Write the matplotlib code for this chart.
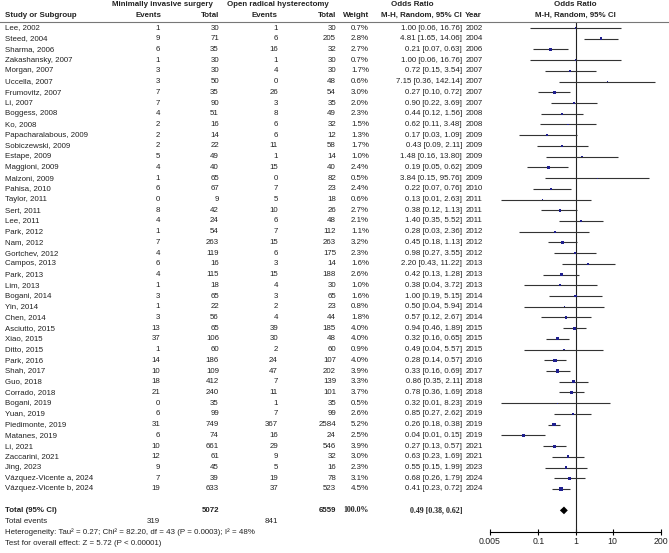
import matplotlib
matplotlib.use('Agg')
from matplotlib import pyplot as plt
from matplotlib.lines import Line2D
import numpy as np

plt.rcParams['font.family'] = ['Liberation Sans', 'DejaVu Sans']

# Data
studies = ['Lee, 2002', 'Steed, 2004', 'Sharma, 2006', 'Zakashansky, 2007', 'Morgan, 2007',
           'Uccella, 2007', 'Frumovitz, 2007', 'Li, 2007', 'Boggess, 2008', 'Ko, 2008',
           'Papacharalabous, 2009', 'Sobiczewski, 2009', 'Estape, 2009', 'Maggioni, 2009',
           'Malzoni, 2009', 'Pahisa, 2010', 'Taylor, 2011', 'Sert, 2011', 'Lee, 2011',
           'Park, 2012', 'Nam, 2012', 'Gortchev, 2012', 'Campos, 2013', 'Park, 2013',
           'Lim, 2013', 'Bogani, 2014', 'Yin, 2014', 'Chen, 2014', 'Asciutto, 2015',
           'Xiao, 2015', 'Ditto, 2015', 'Park, 2016', 'Shah, 2017', 'Guo, 2018',
           'Corrado, 2018', 'Bogani, 2019', 'Yuan, 2019', 'Piedimonte, 2019', 'Matanes, 2019',
           'Li, 2021', 'Zaccarini, 2021', 'Jing, 2023', 'Vázquez-Vicente a, 2024',
           'Vázquez-Vicente b, 2024']
mis_events = [1, 9, 6, 1, 3, 3, 7, 7, 4, 2, 2, 2, 5, 4, 1, 6, 0, 8, 4, 1, 7, 4, 6, 4, 1, 3,
              1, 3, 13, 37, 1, 14, 10, 18, 21, 0, 6, 31, 6, 10, 12, 9, 7, 19]
mis_total = [30, 71, 35, 30, 30, 50, 35, 90, 51, 16, 14, 22, 49, 40, 65, 67, 9, 42, 24, 54,
             263, 119, 16, 115, 18, 65, 22, 56, 65, 106, 60, 186, 109, 412, 240, 35, 99,
             749, 74, 661, 61, 45, 39, 633]
orh_events = [1, 6, 16, 1, 4, 0, 26, 3, 8, 6, 6, 11, 1, 15, 0, 7, 5, 10, 6, 7, 15, 6, 3, 15,
              4, 3, 2, 4, 39, 30, 2, 24, 47, 7, 11, 1, 7, 367, 16, 29, 9, 5, 19, 37]
orh_total = [30, 205, 32, 30, 30, 48, 54, 35, 49, 32, 12, 58, 14, 40, 82, 23, 18, 26, 48,
             112, 263, 175, 14, 188, 30, 65, 23, 44, 185, 48, 60, 107, 202, 139, 101, 35, 99,
             2584, 24, 546, 32, 16, 78, 523]
weights = [0.7, 2.8, 2.7, 0.7, 1.7, 0.6, 3.0, 2.0, 2.3, 1.5, 1.3, 1.7, 1.0, 2.4, 0.5, 2.4,
           0.6, 2.7, 2.1, 1.1, 3.2, 2.3, 1.6, 2.6, 1.0, 1.6, 0.8, 1.8, 4.0, 4.0, 0.9, 4.0,
           3.9, 3.3, 3.7, 0.5, 2.6, 5.2, 2.5, 3.9, 3.0, 2.3, 3.1, 4.5]
odds = [1.00, 4.81, 0.21, 1.00, 0.72, 7.15, 0.27, 0.90, 0.44, 0.62, 0.17, 0.43, 1.48, 0.19,
        3.84, 0.22, 0.13, 0.38, 1.40, 0.28, 0.45, 0.98, 2.20, 0.42, 0.38, 1.00, 0.50, 0.57,
        0.94, 0.32, 0.49, 0.28, 0.33, 0.86, 0.78, 0.32, 0.85, 0.26, 0.04, 0.27, 0.63, 0.55,
        0.68, 0.41]
ci_low = [0.06, 1.65, 0.07, 0.06, 0.15, 0.36, 0.10, 0.22, 0.12, 0.11, 0.03, 0.09, 0.16, 0.05,
          0.15, 0.07, 0.01, 0.12, 0.35, 0.03, 0.18, 0.27, 0.43, 0.13, 0.04, 0.19, 0.04, 0.12,
          0.46, 0.16, 0.04, 0.14, 0.16, 0.35, 0.36, 0.01, 0.27, 0.18, 0.01, 0.13, 0.23, 0.15,
          0.26, 0.23]
ci_high = [16.76, 14.06, 0.63, 16.76, 3.54, 142.14, 0.72, 3.69, 1.56, 3.48, 1.09, 2.11, 13.80,
           0.62, 95.76, 0.76, 2.63, 1.13, 5.52, 2.36, 1.13, 3.55, 11.22, 1.28, 3.72, 5.15,
           5.94, 2.67, 1.89, 0.65, 5.57, 0.57, 0.69, 2.11, 1.69, 8.23, 2.62, 0.38, 0.15, 0.57,
           1.69, 1.99, 1.79, 0.72]
years = [2002, 2004, 2006, 2007, 2007, 2007, 2007, 2007, 2008, 2008, 2009, 2009, 2009, 2009,
         2009, 2010, 2011, 2011, 2011, 2012, 2012, 2012, 2013, 2013, 2013, 2014, 2014, 2014,
         2015, 2015, 2015, 2016, 2017, 2018, 2018, 2019, 2019, 2019, 2019, 2021, 2021, 2023,
         2024, 2024]

pooled = (0.49, 0.38, 0.62)
total_n = (5072, 6559)
total_events = (319, 841)
heterogeneity = 'Heterogeneity: Tau² = 0.27; Chi² = 82.20, df = 43 (P = 0.0003); I² = 48%'
overall = 'Test for overall effect: Z = 5.72 (P < 0.00001)'
xticks = [0.005, 0.1, 1, 10, 200]
xticklabels = ['0.005', '0.1', '1', '10', '200']

W, H = 669, 553
fig = plt.figure(figsize=(W / 100, H / 100), dpi=100)

Y0, DY = 28, 10.72
fs = 5.7


def fx(px):
    return px / W


def fy(py):
    return 1 - py / H


def row_y(i):
    return Y0 + i * DY


def put(px, py, s, ha='left', bold=False, **kw):
    fig.text(fx(px), fy(py), s, ha=ha, va='center', fontsize=fs,
             fontweight='bold' if bold else 'normal', color='#222222', **kw)


# header
put(162, 5, 'Minimally invasive surgery', ha='center', bold=True)
put(278, 5, 'Open radical hysterectomy', ha='center', bold=True)
put(412, 5, 'Odds Ratio', ha='center', bold=True)
put(575, 5, 'Odds Ratio', ha='center', bold=True)
put(5, 15.5, 'Study or Subgroup', bold=True)
put(162, 15.5, 'Events', ha='right', bold=True)
put(219, 15.5, 'Total', ha='right', bold=True)
put(278, 15.5, 'Events', ha='right', bold=True)
put(336, 15.5, 'Total', ha='right', bold=True)
put(369, 15.5, 'Weight', ha='right', bold=True)
put(462, 15.5, 'M-H, Random, 95% CI', ha='right', bold=True)
put(465, 15.5, 'Year', bold=True)
put(575, 15.5, 'M-H, Random, 95% CI', ha='center', bold=True)
fig.add_artist(Line2D([0, 1], [fy(21.5)] * 2, transform=fig.transFigure,
                      color='#777777', lw=0.8))

# study rows
for i, name in enumerate(studies):
    y = row_y(i)
    put(5, y, name)
    put(160, y, str(mis_events[i]), ha='right')
    put(219, y, str(mis_total[i]), ha='right')
    put(278, y, str(orh_events[i]), ha='right')
    put(336, y, str(orh_total[i]), ha='right')
    put(369, y, f'{weights[i]:.1f}%', ha='right')
    put(462, y, f'{odds[i]:.2f} [{ci_low[i]:.2f}, {ci_high[i]:.2f}]', ha='right')
    put(466, y, str(years[i]))

# totals
yt = row_y(len(studies) + 1)
put(5, yt, 'Total (95% CI)', bold=True)
put(219, yt, str(total_n[0]), ha='right', bold=True)
put(336, yt, str(total_n[1]), ha='right', bold=True)
put(369, yt, '100.0%', ha='right', bold=True, family=['Liberation Serif'])
put(463, yt, f'{pooled[0]:.2f} [{pooled[1]:.2f}, {pooled[2]:.2f}]', ha='right', bold=True,
    family=['Liberation Serif'])
put(5, yt + 11, 'Total events')
put(160, yt + 11, str(total_events[0]), ha='right')
put(278, yt + 11, str(total_events[1]), ha='right')
put(5, yt + 22, heterogeneity)
put(5, yt + 33, overall)

# forest panel
ax_top, ax_bot = 22, 532
ax = fig.add_axes([fx(490), fy(ax_bot), (661 - 490) / W, (ax_bot - ax_top) / H])
ax.set_xscale('log')
ax.set_xlim(0.005, 200)
ax.set_ylim((ax_bot - Y0) / DY, (ax_top - Y0) / DY)
ax.patch.set_alpha(0)
for s in ['left', 'right', 'top']:
    ax.spines[s].set_visible(False)
ax.spines['bottom'].set_linewidth(0.8)
ax.set_yticks([])
ax.set_xticks(xticks)
ax.set_xticklabels(xticklabels)
ax.minorticks_off()
ax.tick_params(axis='x', direction='inout', length=5, width=0.8, labelsize=6.3, pad=1,
               labelcolor='#222222')
ax.axvline(1, color='#222222', lw=0.8)

rows = np.arange(len(studies))
ax.hlines(rows, ci_low, ci_high, color='#333333', lw=0.8)
ax.scatter(odds, rows, s=np.array(weights) * 1.3, marker='s', color='#1f1f8f',
           linewidths=0, zorder=3)

yd = len(studies) + 1
h = 0.36
ax.fill([pooled[1], pooled[0], pooled[2], pooled[0]], [yd, yd - h, yd, yd + h],
        color='black', lw=0)

fig.savefig('out.png', dpi=100)
